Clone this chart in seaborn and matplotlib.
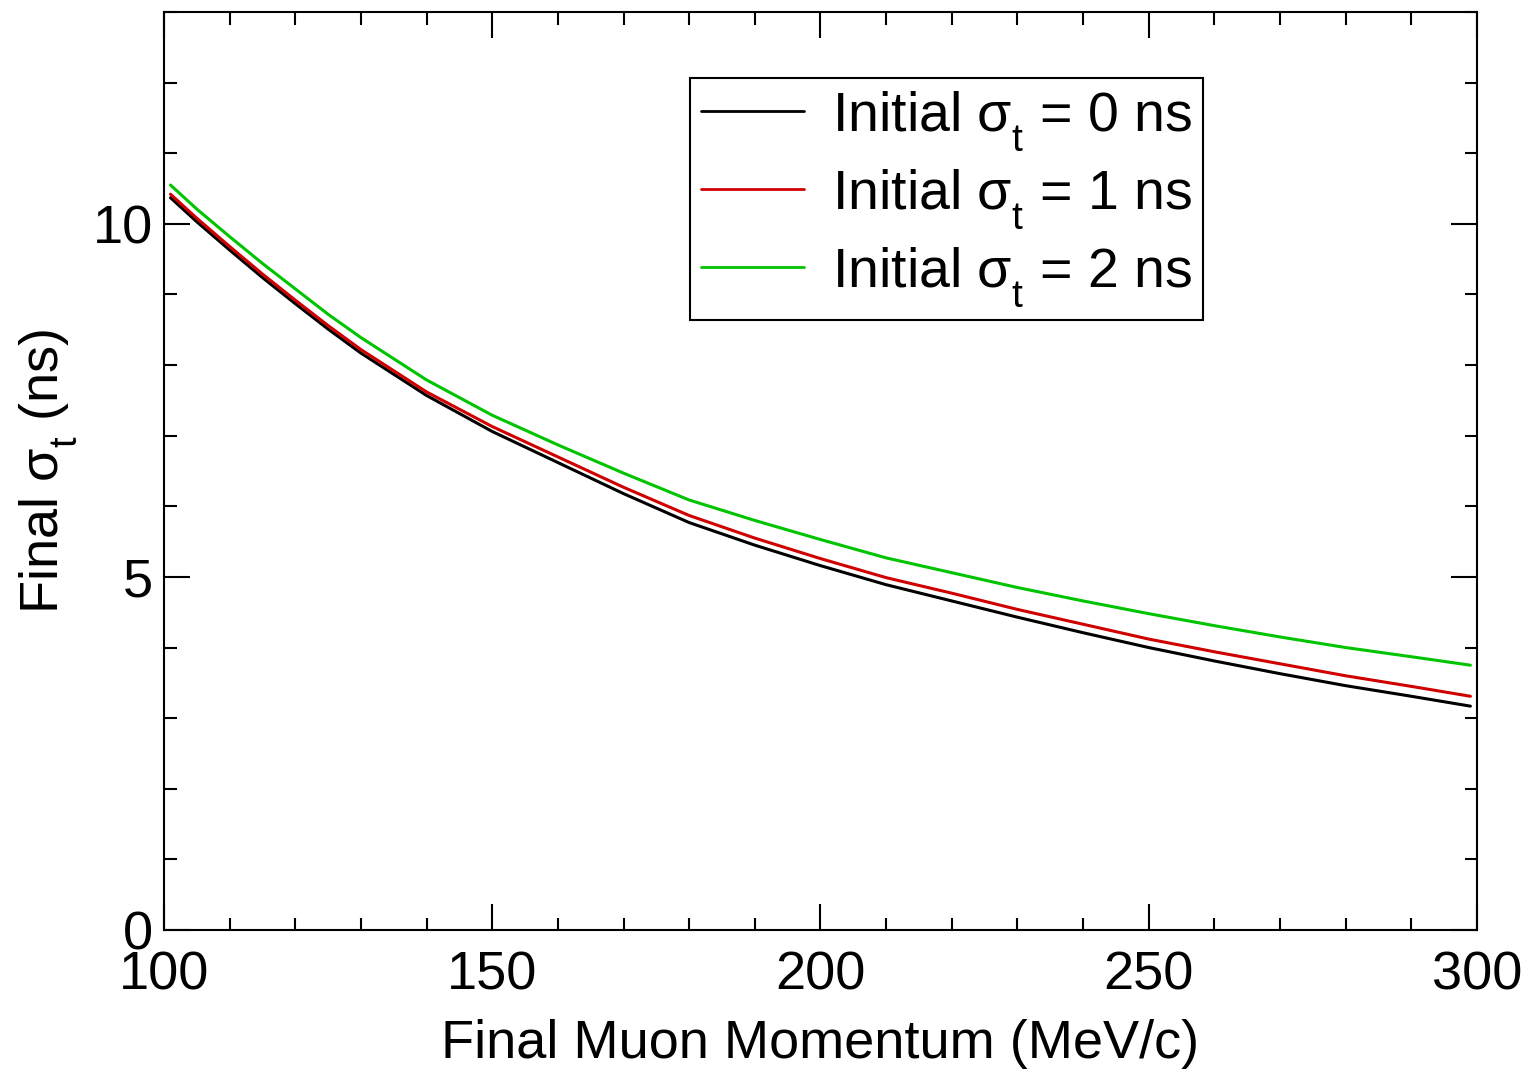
import matplotlib
matplotlib.use("Agg")
import matplotlib.pyplot as plt
import matplotlib._mathtext as mathtext_internals
from matplotlib.ticker import MultipleLocator
import seaborn as sns
import pandas as pd

# momentum grid (MeV/c) and final timing spread (ns)
momentum = [101, 105, 110, 115, 120, 125, 130, 140, 150, 160, 170, 180,
            190, 200, 210, 220, 230, 240, 250, 260, 270, 280, 290, 299]
sigma_0ns = [10.37, 10.03, 9.63, 9.24, 8.87, 8.51, 8.17, 7.57, 7.06, 6.62, 6.18, 5.77,
             5.45, 5.16, 4.89, 4.66, 4.43, 4.21, 4.00, 3.81, 3.63, 3.46, 3.31, 3.17]
sigma_1ns = [10.42, 10.08, 9.68, 9.29, 8.92, 8.56, 8.22, 7.62, 7.13, 6.70, 6.27, 5.87,
             5.55, 5.26, 4.99, 4.77, 4.54, 4.33, 4.12, 3.94, 3.77, 3.60, 3.45, 3.31]
sigma_2ns = [10.55, 10.21, 9.82, 9.44, 9.08, 8.72, 8.39, 7.79, 7.29, 6.87, 6.47, 6.09,
             5.80, 5.53, 5.27, 5.06, 4.85, 4.66, 4.48, 4.31, 4.15, 4.00, 3.87, 3.75]

labels = [r"Initial σ$_\mathregular{t}$ = 0 ns",
          r"Initial σ$_\mathregular{t}$ = 1 ns",
          r"Initial σ$_\mathregular{t}$ = 2 ns"]
colors = ["#000000", "#d00000", "#00c400"]

df = pd.concat([
    pd.DataFrame({"p": momentum, "sigma": s, "case": lab})
    for s, lab in zip([sigma_0ns, sigma_1ns, sigma_2ns], labels)
], ignore_index=True)

sns.set_style("ticks")
plt.rcParams["font.family"] = ["Liberation Sans", "DejaVu Sans"]
plt.rcParams["mathtext.fontset"] = "custom"
plt.rcParams["mathtext.rm"] = "Liberation Sans"
plt.rcParams["mathtext.it"] = "Liberation Sans"
plt.rcParams["text.color"] = "black"
plt.rcParams["axes.labelcolor"] = "black"
# grace-style subscripts sit lower than mathtext's default
mathtext_internals.FontConstantsBase.sub1 = 0.7

fig = plt.figure(figsize=(15.28, 10.76), dpi=100)
ax = fig.add_axes([0.1073, 0.1357, 0.8593, 0.8531])

sns.lineplot(data=df, x="p", y="sigma", hue="case", hue_order=labels,
             palette=colors, linewidth=2.2, ax=ax)

ax.set_xlim(100, 300)
ax.set_ylim(0, 13)
ax.xaxis.set_major_locator(MultipleLocator(50))
ax.xaxis.set_minor_locator(MultipleLocator(10))
ax.yaxis.set_major_locator(MultipleLocator(5))
ax.yaxis.set_minor_locator(MultipleLocator(1))
ax.tick_params(which="both", direction="in", top=True, right=True, width=1.5,
               colors="black", labelcolor="black")
ax.tick_params(which="major", length=19, labelsize=39)
ax.tick_params(axis="x", which="major", pad=15)
ax.tick_params(axis="y", which="major", pad=8)
ax.tick_params(which="minor", length=9)
for sp in ax.spines.values():
    sp.set_linewidth(1.5)
    sp.set_color("black")

ax.set_xlabel("Final Muon Momentum (MeV/c)", fontsize=39, labelpad=13)
ax.set_ylabel(r"Final σ$_\mathregular{t}$ (ns)", fontsize=39, labelpad=10)

leg = ax.legend(loc="upper left", bbox_to_anchor=(0.4006, 0.928), borderaxespad=0,
                fontsize=40, frameon=True, fancybox=False, framealpha=1,
                handlelength=1.85, handletextpad=0.5, labelspacing=0.26, borderpad=0.2)
leg.get_frame().set_edgecolor("black")
leg.get_frame().set_linewidth(1.5)
for line in leg.get_lines():
    line.set_linewidth(2)

plt.savefig("out.png", dpi=100)
